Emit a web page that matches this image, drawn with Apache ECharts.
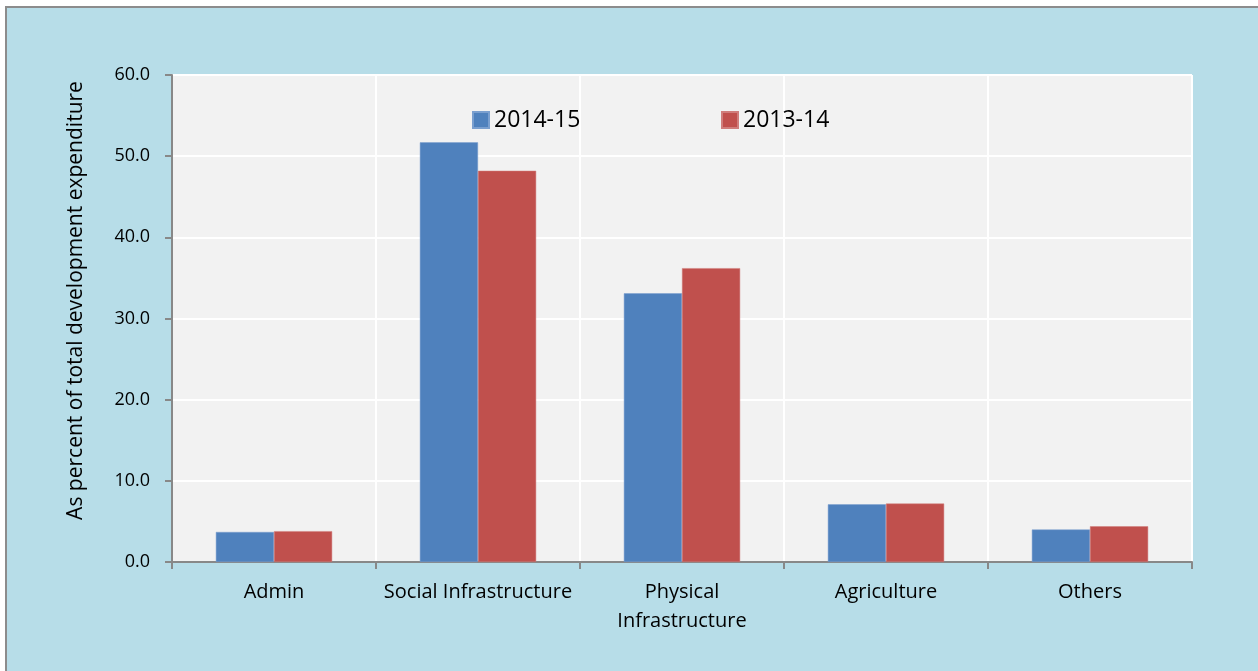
<!DOCTYPE html>
<html><head><meta charset="utf-8">
<script src="https://cdn.jsdelivr.net/npm/echarts@6/dist/echarts.min.js"></script>
<style>html,body{margin:0;padding:0;background:#fff}#c{width:1258px;height:671px}</style>
</head><body><div id="c"></div>
<script>
const categories = ['Admin', 'Social Infrastructure', 'Physical\nInfrastructure', 'Agriculture', 'Others'];
const series2014 = [3.7, 51.7, 33.1, 7.1, 4.0];
const series2013 = [3.8, 48.2, 36.2, 7.2, 4.4];
const seriesNames = ['2014-15', '2013-14'];
const yTicks = {min: 0, max: 60, interval: 10};

const FONT = '"Open Sans", "Liberation Sans", sans-serif';
const chart = echarts.init(document.getElementById('c'), null, {renderer: 'canvas'});
const legendText = {fontFamily: FONT, fontSize: 23, color: '#000', lineHeight: 28};
chart.setOption({
  backgroundColor: '#ffffff',
  animation: false,
  graphic: [
    {type: 'rect', z: -10, shape: {x: 6, y: 7, width: 1300, height: 700},
     style: {fill: '#b7dde8', stroke: '#8c8c8c', lineWidth: 2}}
  ],
  legend: [
    {data: [seriesNames[0]], left: 472, top: 106, padding: 0, itemWidth: 16, itemHeight: 16, icon: 'rect',
     textStyle: legendText},
    {data: [seriesNames[1]], left: 721, top: 106, padding: 0, itemWidth: 16, itemHeight: 16, icon: 'rect',
     textStyle: legendText}
  ],
  grid: {left: 172, top: 75, right: 66, bottom: 109, show: true, backgroundColor: '#f2f2f2', borderWidth: 0},
  xAxis: {
    type: 'category', data: categories,
    axisLine: {lineStyle: {color: '#888888', width: 2}},
    axisTick: {show: true, interval: 0, length: 7, lineStyle: {color: '#888888', width: 2}},
    splitLine: {show: true, interval: 0, lineStyle: {color: '#ffffff', width: 2}},
    axisLabel: {interval: 0, fontFamily: FONT, fontSize: 20, color: '#000', margin: 16, lineHeight: 29}
  },
  yAxis: {
    type: 'value', min: yTicks.min, max: yTicks.max, interval: yTicks.interval,
    name: 'As percent of total development expenditure', nameLocation: 'middle', nameGap: 85,
    nameTextStyle: {fontFamily: FONT, fontSize: 21, color: '#000', padding: [0, 0, 0, 36]},
    axisLine: {show: true, lineStyle: {color: '#888888', width: 2}},
    axisTick: {show: true, length: 7, lineStyle: {color: '#888888', width: 2}},
    splitLine: {show: true, lineStyle: {color: '#ffffff', width: 2}},
    axisLabel: {fontFamily: FONT, fontSize: 18, color: '#000', margin: 22,
      formatter: v => v.toFixed(1)}
  },
  series: [
    {name: seriesNames[0], type: 'bar', data: series2014, barGap: '0%', barCategoryGap: '43%',
     itemStyle: {color: '#4f81bd', borderColor: '#7a9fcf', borderWidth: 0.5}},
    {name: seriesNames[1], type: 'bar', data: series2013, barGap: '0%', barCategoryGap: '43%',
     itemStyle: {color: '#c0504d', borderColor: '#d07d7b', borderWidth: 0.5}}
  ]
});
</script></body></html>
